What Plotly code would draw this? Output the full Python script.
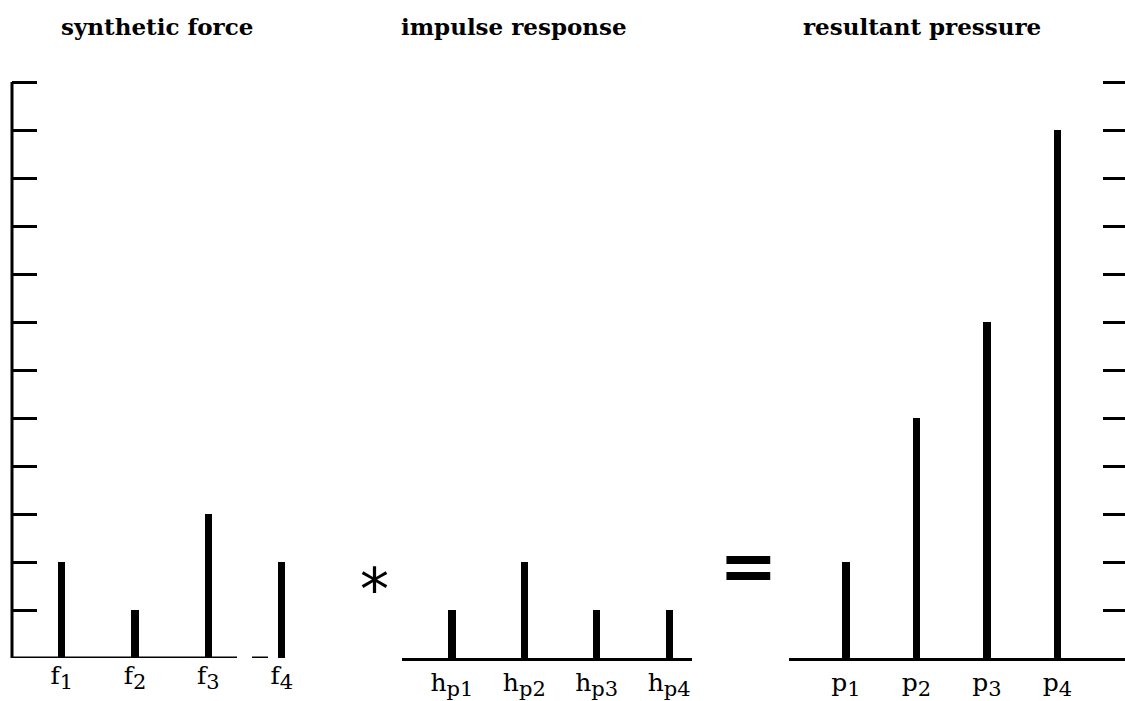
import plotly.graph_objects as go

# ---- data ----
positions = [1, 2, 3, 4]
force_names = ["f", "f", "f", "f"]
force_subs = ["1", "2", "3", "4"]
force_values = [2, 1, 3, 2]
impulse_names = ["h", "h", "h", "h"]
impulse_subs = ["p1", "p2", "p3", "p4"]
impulse_values = [1, 2, 1, 1]
pressure_names = ["p", "p", "p", "p"]
pressure_subs = ["1", "2", "3", "4"]
pressure_values = [2, 5, 7, 11]
panel_titles = ["synthetic force", "impulse response", "resultant pressure"]
y_ticks = list(range(1, 13))

W, H = 1125, 701


def px(x):
    return x / W


def py(y):
    return 1 - y / H


def sub_labels(names, subs, size):
    return ['%s<sub><span style="font-size:%dpx">%s</span></sub>' % (n, size, s)
            for n, s in zip(names, subs)]


fig = go.Figure()
BAR_W = 0.1
fig.add_trace(go.Bar(x=positions, y=force_values, width=BAR_W, marker_color="black",
                     marker_line_width=0, xaxis="x", yaxis="y", hoverinfo="skip"))
fig.add_trace(go.Bar(x=positions, y=impulse_values, width=BAR_W, marker_color="black",
                     marker_line_width=0, xaxis="x2", yaxis="y", hoverinfo="skip"))
fig.add_trace(go.Bar(x=positions, y=pressure_values, width=BAR_W, marker_color="black",
                     marker_line_width=0, xaxis="x3", yaxis="y", hoverinfo="skip"))
# invisible trace so the right-hand tick axis is drawn
fig.add_trace(go.Scatter(x=[positions[0]], y=[0], mode="markers", marker_opacity=0,
                         xaxis="x3", yaxis="y2", hoverinfo="skip"))

tick_font = dict(family="DejaVu Serif", size=25, color="black")
YMAX = 12.03
ydom = [py(658), py(658 - 48 * YMAX)]

common_x = dict(showgrid=False, zeroline=False, ticks="", tickvals=positions,
                tickfont=tick_font, anchor="y", fixedrange=True)

fig.update_layout(
    width=W, height=H, autosize=False,
    margin=dict(l=0, r=0, t=0, b=0, pad=0),
    paper_bgcolor="white", plot_bgcolor="white",
    showlegend=False, bargap=0,
    xaxis=dict(domain=[px(12), px(300)], range=[0.3206, 4.2497], showline=False,
               ticktext=sub_labels(force_names, force_subs, 21), **common_x),
    xaxis2=dict(domain=[px(402), px(692)], range=[0.311, 4.316], showline=True,
                linewidth=3, linecolor="black",
                ticktext=sub_labels(impulse_names, impulse_subs, 21), **common_x),
    xaxis3=dict(domain=[px(789), 1.0], range=[0.1915, 4.957], showline=True,
                linewidth=3, linecolor="black",
                ticktext=sub_labels(pressure_names, pressure_subs, 21), **common_x),
    yaxis=dict(domain=ydom, range=[0, YMAX], anchor="x", showline=False,
               ticks="inside", ticklen=25, tickwidth=3,
               tickcolor="black", tickvals=y_ticks, showticklabels=False,
               showgrid=False, zeroline=False, fixedrange=True),
    yaxis2=dict(domain=ydom, range=[0, YMAX], overlaying="y", anchor="free", position=1.0,
                side="right", showline=False, ticks="inside", ticklen=22, tickwidth=3,
                tickcolor="black", tickvals=y_ticks, showticklabels=False,
                showgrid=False, zeroline=False, fixedrange=True),
)

# left vertical axis line from 0 to the top tick
fig.add_shape(type="line", xref="paper", yref="y", x0=px(12), x1=px(12),
              y0=0, y1=y_ticks[-1], line=dict(color="black", width=3))

# baseline of the first panel (broken in the original)
for a, b in [(12, 237), (252, 268)]:
    fig.add_shape(type="line", xref="paper", yref="y", x0=px(a), x1=px(b), y0=0, y1=0,
                  line=dict(color="black", width=3))

title_font = dict(family="DejaVu Serif", size=23, color="black")
for title, cx in zip(panel_titles, [157, 514, 922]):
    fig.add_annotation(text="<b>%s</b>" % title, x=px(cx), y=py(27), xref="paper",
                       yref="paper", showarrow=False, xanchor="center", yanchor="middle",
                       font=title_font)

fig.add_annotation(text="*", x=px(374), y=py(590), xref="paper", yref="paper",
                   showarrow=False, xanchor="center", yanchor="middle",
                   font=dict(family="DejaVu Sans", size=58, color="black"))
fig.add_annotation(text="<b>=</b>", x=px(748), y=py(566), xref="paper", yref="paper",
                   showarrow=False, xanchor="center", yanchor="middle",
                   font=dict(family="DejaVu Sans", size=70, color="black"))

fig.write_html("out.html", config={"displayModeBar": False},
               post_script="document.body.style.margin='0';document.body.style.overflow='hidden';")
